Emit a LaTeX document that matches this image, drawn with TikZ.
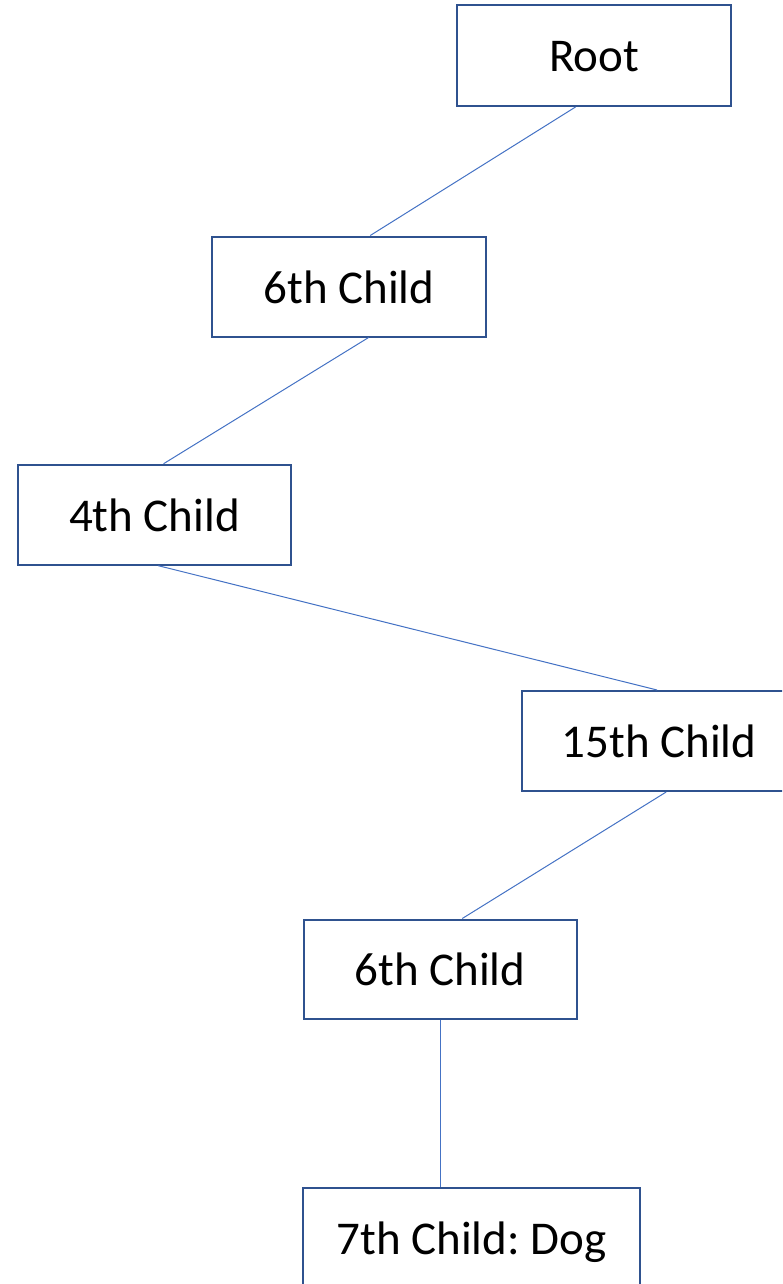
\documentclass[tikz,border=0pt]{standalone}
\usepackage{fontspec}
\setmainfont{Carlito}
\usetikzlibrary{calc}
\frenchspacing
\definecolor{boxblue}{HTML}{2F528F}
\definecolor{linkblue}{HTML}{4472C4}
\tikzset{
  box/.style={draw=boxblue, line width=2pt, fill=white, inner sep=0pt,
    minimum height=100pt, font=\fontsize{47}{56}\selectfont\frenchspacing,
    text height=37pt, text depth=4pt},
  link/.style={draw=linkblue, line width=1pt}
}
\begin{document}
\begin{tikzpicture}[x=1pt,y=-1pt]
\useasboundingbox (0,0) rectangle (782,1284);
\clip (0,0) rectangle (782,1284);
\node[box, minimum width=274pt, minimum height=101pt] (root) at (594,55.5) {Root};
\node[box, minimum width=274pt] (c6a) at (349,286.5) {6th Child};
\node[box, minimum width=273.5pt] (c4) at (154.5,514.7) {4th Child};
\node[box, minimum width=274pt] (c15) at (659,741) {15th Child};
\node[box, minimum width=273pt, minimum height=99pt] (c6b) at (440,969) {6th Child};
\node[box, minimum width=337pt] (c7) at (471.5,1238) {7th Child: Dog};
\coordinate (r1) at ($(root.south west)!0.433!(root.south east)$);
\coordinate (a1) at ($(c6a.north west)!0.577!(c6a.north east)$);
\coordinate (a2) at ($(c6a.south west)!0.571!(c6a.south east)$);
\coordinate (f1) at ($(c4.north west)!0.533!(c4.north east)$);
\coordinate (f2) at ($(c4.south west)!0.514!(c4.south east)$);
\coordinate (g1) at ($(c15.north west)!0.493!(c15.north east)$);
\coordinate (g2) at ($(c15.south west)!0.526!(c15.south east)$);
\coordinate (b1) at ($(c6b.north west)!0.581!(c6b.north east)$);
\coordinate (b2) at ($(c6b.south west)!0.501!(c6b.south east)$);
\coordinate (d1) at (b2 |- c7.north);
\draw[link] (r1) -- (a1);
\draw[link] (a2) -- (f1);
\draw[link] (f2) -- (g1);
\draw[link] (g2) -- (b1);
\draw[link] (b2) -- (d1);
\end{tikzpicture}
\end{document}
